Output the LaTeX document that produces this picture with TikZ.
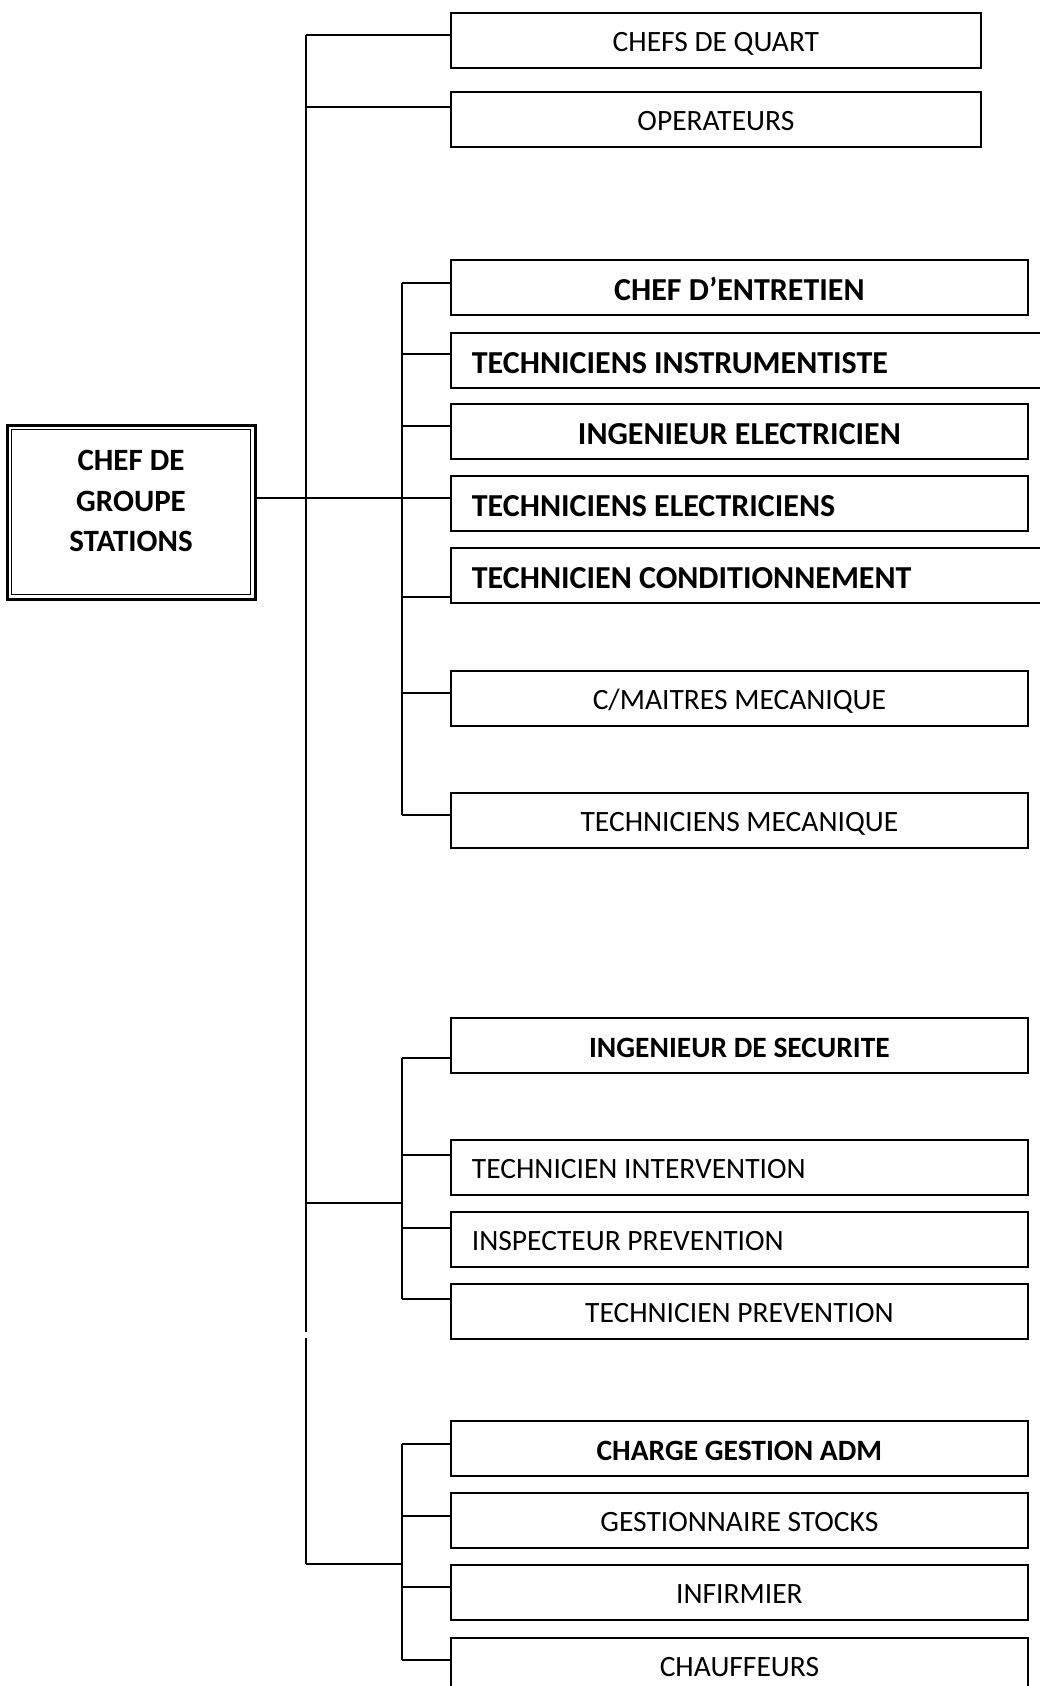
\documentclass[tikz,border=0pt]{standalone}
\usepackage{fontspec}
\setmainfont{Carlito}
\begin{document}
\begin{tikzpicture}[x=1pt,y=-1pt,
  link/.style={line width=1.8pt},
  boxbase/.style={draw, line width=1.8pt, anchor=north west, minimum height=55pt,
    inner sep=0pt, text height=21.6pt, text depth=0pt, font=\fontsize{29.5}{35}\selectfont},
  topbox/.style={boxbase, minimum width=530pt, align=center},
  cbox/.style={boxbase, minimum width=577pt, align=center},
  lbox/.style={boxbase, minimum width=577pt, text width=535pt, inner xsep=21pt, align=flush left},
  wlbox/.style={boxbase, minimum width=620pt, text width=578pt, inner xsep=21pt, align=flush left},
  bf/.style={font=\fontsize{32}{38}\selectfont\bfseries, text height=26pt},
  bfn/.style={font=\fontsize{29.5}{35}\selectfont\bfseries, text height=24pt},
  chefbox/.style={draw, line width=3pt, minimum width=248pt, minimum height=174pt, inner sep=0pt},
  cheftext/.style={align=center, font=\fontsize{31}{40.5}\selectfont\bfseries}
]
\useasboundingbox (0,0) rectangle (1040,1686);
\clip (0,0) rectangle (1040,1686);

% chief
\node[chefbox] (chef) at (131,512) {};
\draw[line width=1.5pt] ([shift={(6,6)}]chef.north west) rectangle ([shift={(-6,-6)}]chef.south east);
\node[cheftext] (cheftxt) at (131,501) {CHEF DE\\GROUPE\\STATIONS};

% top group
\node[topbox] (cq) at (450,12) {CHEFS DE QUART};
\node[topbox] (op) at (450,91) {OPERATEURS};

% maintenance group
\node[cbox,bf] (ce) at (450,259) {CHEF D’ENTRETIEN};
\node[wlbox,bf] (ti) at (450,332) {TECHNICIENS INSTRUMENTISTE};
\node[cbox,bf] (ie) at (450,403) {INGENIEUR ELECTRICIEN};
\node[lbox,bf] (te) at (450,475) {TECHNICIENS ELECTRICIENS};
\node[wlbox,bf] (tc) at (450,547) {TECHNICIEN CONDITIONNEMENT};
\node[cbox] (cm) at (450,670) {C/MAITRES MECANIQUE};
\node[cbox] (tm) at (450,792) {TECHNICIENS MECANIQUE};

% safety group
\node[cbox,bfn] (is) at (450,1017) {INGENIEUR DE SECURITE};
\node[lbox] (tin) at (450,1139) {TECHNICIEN INTERVENTION};
\node[lbox] (ip) at (450,1211) {INSPECTEUR PREVENTION};
\node[cbox] (tp) at (450,1283) {TECHNICIEN PREVENTION};

% admin group
\node[cbox,bfn] (cg) at (450,1420) {CHARGE GESTION ADM};
\node[cbox] (gs) at (450,1492) {GESTIONNAIRE STOCKS};
\node[cbox] (inf) at (450,1564) {INFIRMIER};
\node[cbox] (ch) at (450,1637) {CHAUFFEURS};

% trunk coordinates
\coordinate (mt) at (306,35);
\coordinate (mop) at (306,107);
\coordinate (m2) at (306,498);
\coordinate (mg1) at (306,1332);
\coordinate (mg2) at (306,1338);
\coordinate (m3) at (306,1203);
\coordinate (m4) at (306,1564);

\coordinate (s2a) at (402,283);
\coordinate (s2b) at (402,354);
\coordinate (s2c) at (402,426);
\coordinate (s2d) at (402,498);
\coordinate (s2e) at (402,597);
\coordinate (s2f) at (402,693);
\coordinate (s2g) at (402,815);

\coordinate (s3a) at (402,1058);
\coordinate (s3b) at (402,1155);
\coordinate (s3c) at (402,1228);
\coordinate (s3m) at (402,1203);
\coordinate (s3d) at (402,1299);

\coordinate (s4a) at (402,1444);
\coordinate (s4b) at (402,1516);
\coordinate (s4m) at (402,1564);
\coordinate (s4c) at (402,1587);
\coordinate (s4d) at (402,1660);

% main trunk (with the small break of the original)
\draw[link] (mt) -- (mg1);
\draw[link] (mg2) -- (m4);
\draw[link] (mt) -- (cq.west |- mt);
\draw[link] (mop) -- (op.west |- mop);
\draw[link] (chef.east |- m2) -- (s2d);

% maintenance branch
\draw[link] (s2a) -- (s2g);
\draw[link] (s2a) -- (ce.west |- s2a);
\draw[link] (s2b) -- (ti.west |- s2b);
\draw[link] (s2c) -- (ie.west |- s2c);
\draw[link] (s2d) -- (te.west |- s2d);
\draw[link] (s2e) -- (tc.west |- s2e);
\draw[link] (s2f) -- (cm.west |- s2f);
\draw[link] (s2g) -- (tm.west |- s2g);

% safety branch
\draw[link] (m3) -- (s3m);
\draw[link] (s3a) -- (s3d);
\draw[link] (s3a) -- (is.west |- s3a);
\draw[link] (s3b) -- (tin.west |- s3b);
\draw[link] (s3c) -- (ip.west |- s3c);
\draw[link] (s3d) -- (tp.west |- s3d);

% admin branch
\draw[link] (m4) -- (s4m);
\draw[link] (s4a) -- (s4d);
\draw[link] (s4a) -- (cg.west |- s4a);
\draw[link] (s4b) -- (gs.west |- s4b);
\draw[link] (s4c) -- (inf.west |- s4c);
\draw[link] (s4d) -- (ch.west |- s4d);
\end{tikzpicture}
\end{document}
